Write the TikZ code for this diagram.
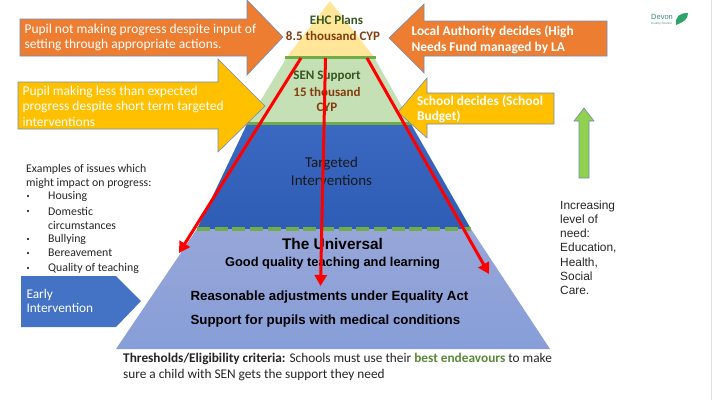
\documentclass[tikz,border=0pt]{standalone}
\usepackage{fontspec}
\setmainfont{Carlito}
\newfontfamily\arialfont{Liberation Sans}
\usetikzlibrary{arrows.meta}
\definecolor{arrowedge}{HTML}{6F8DB8}
\definecolor{darkorange}{HTML}{ED7D31}
\definecolor{gold}{HTML}{FFC000}
\definecolor{midgreen}{HTML}{70AD47}
\definecolor{palegreen}{HTML}{C5E0B4}
\definecolor{paleyellow}{HTML}{FFE699}
\definecolor{brownish}{HTML}{843C0C}
\definecolor{olive}{HTML}{375623}
\definecolor{devonteal}{HTML}{3C8C84}
\definecolor{limegreen}{HTML}{92D050}
\definecolor{earlyblue}{HTML}{4472C4}
\definecolor{targettop}{HTML}{3B68C0}
\definecolor{targetbot}{HTML}{2E5DB5}
\definecolor{unitop}{HTML}{97A6D8}
\definecolor{unibot}{HTML}{879ED8}
\tikzset{
	bigarrow/.style = {draw=arrowedge, line width=0.6pt},
	arrowtext/.style = {anchor=west, align=left, text=white, font=\fontsize{13.5}{15.6}\selectfont},
	boldarrowtext/.style = {arrowtext, font=\bfseries\fontsize{13.4}{15.6}\selectfont},
	leveltext/.style = {align=center, font=\bfseries\fontsize{13}{16}\selectfont},
	boldtext/.style = {font=\arialfont\bfseries\fontsize{13.3}{14}\selectfont, text=black},
	redarrow/.style = {draw=red, line width=3pt, -{Triangle[length=11pt,width=12pt]}},
	plaintext/.style = {anchor=west, align=left, text=black!85, font=\fontsize{11.8}{14}\selectfont},
	bulletdot/.style = {circle, fill=black, inner sep=0pt, minimum size=2.2pt},
}
\begin{document}
\begin{tikzpicture}[x=1pt,y=-1pt]
	\useasboundingbox (0,0) rectangle (712,400);
	\fill[white] (0,0) rectangle (712,400);
	\draw[black!12, line width=0.8pt] (711,0) -- (711,400);

	% pyramid
	\shade[top color=targettop, bottom color=targetbot] (247,124) -- (411,124) -- (471,229) -- (197,229) -- cycle;
	\shade[top color=unitop, bottom color=unibot] (197,229) -- (471,229) -- (550,349) -- (116,349) -- cycle;
	\fill[palegreen] (287,57) -- (374,57) -- (411,123) -- (247,123) -- cycle;
	\fill[paleyellow] (330,1) -- (374,57) -- (287,57) -- cycle;
	\draw[midgreen, line width=3pt] (285,57.5) -- (376,57.5);
	\draw[midgreen, line width=3pt] (247,123) -- (412,123);
	\draw[midgreen, line width=4pt, dash pattern=on 13pt off 4.7pt] (197,229) -- (471,229);

	% callouts
	\fill[darkorange, bigarrow] (20,19) -- (247,19) -- (247,0) -- (283,37) -- (247,75) -- (247,56) -- (20,56) -- cycle;
	\fill[gold, bigarrow] (18,82) -- (218,82) -- (218,59) -- (265,106) -- (218,152) -- (218,129) -- (18,129) -- cycle;
	\fill[darkorange, bigarrow] (607,21) -- (424,21) -- (424,4) -- (389,38) -- (424,73) -- (424,56) -- (607,56) -- cycle;
	\fill[gold, bigarrow] (554,93) -- (427,93) -- (427,78) -- (398,112) -- (427,138) -- (427,124) -- (554,124) -- cycle;
	\fill[limegreen, bigarrow] (579,178) -- (579,121) -- (574,121) -- (584,108) -- (594,121) -- (589,121) -- (589,178) -- cycle;
	\fill[earlyblue] (21,276) -- (116,276) -- (141,301) -- (116,327) -- (21,327) -- cycle;

	\node[arrowtext] (notprogress) at (21,37.5) {Pupil not making progress despite input of\\setting through appropriate actions.};
	\node[arrowtext] (lessprogress) at (19,106) {Pupil making less than expected\\progress despite short term targeted\\interventions};
	\node[boldarrowtext] (ladecides) at (408,39.5) {Local Authority decides (High\\Needs Fund managed by LA};
	\node[boldarrowtext] (schooldecides) at (413.5,109) {School decides (School\\Budget)};
	\node[arrowtext, font=\fontsize{13.3}{14}\selectfont] (early) at (23,301) {Early\\Intervention};

	% levels
	\node[leveltext, text=olive] (ehc) at (336.5,20) {EHC Plans};
	\node[leveltext, text=brownish] (ehcnum) at (333,36) {8.5 thousand CYP};
	\node[leveltext, text=olive] (sen) at (327,76) {SEN Support};
	\node[leveltext, text=brownish] (senfifteen) at (327,91.5) {15 thousand};
	\node[leveltext, text=brownish] (sennum) at (327,107) {CYP};
	\node[leveltext, text=black!90, font=\fontsize{15}{18}\selectfont] (targeted) at (331.5,171) {Targeted\\Interventions};

	\node[boldtext, font=\arialfont\bfseries\fontsize{15.4}{16}\selectfont] (universal) at (332.5,244) {The Universal};
	\node[boldtext, font=\arialfont\bfseries\fontsize{12.85}{14}\selectfont] (goodquality) at (332.5,263) {Good quality teaching and learning};
	\node[boldtext, anchor=west] (reasonable) at (187,297) {Reasonable adjustments under Equality Act};
	\node[boldtext, anchor=west] (medical) at (187,321.5) {Support for pupils with medical conditions};

	% red arrows
	\coordinate (senleft) at (301,58);
	\coordinate (senmid) at (325.5,58);
	\coordinate (senright) at (367,58);
	\coordinate (uleft) at (179,253);
	\coordinate (umid) at (320.5,286);
	\coordinate (uright) at (489,274);
	\draw[redarrow] (senleft) -- (uleft);
	\draw[redarrow] (senmid) -- (umid);
	\draw[redarrow] (senright) -- (uright);

	% left list
	\node[plaintext] (examples) at (22.7,176) {Examples of issues which\\might impact on progress:};
	\node[plaintext] (housing) at (44.7,196) {Housing};
	\node[plaintext] (domestic) at (44.7,218) {Domestic\\circumstances};
	\node[plaintext] (bullying) at (44.7,239) {Bullying};
	\node[plaintext] (bereavement) at (44.7,253) {Bereavement};
	\node[plaintext] (teaching) at (44.7,268) {Quality of teaching};
	\foreach \name/\yy in {housing/196,domestic/211,bullying/239,bereavement/253,teaching/268}
		\node[bulletdot] (dot\name) at (28,\yy) {};

	% right text
	\node[anchor=north west, align=left, inner sep=0pt, text=black!85, font=\arialfont\fontsize{11.9}{14.17}\selectfont] (increasing) at (560,200.5) {Increasing\\level of\\need:\\Education,\\Health,\\Social\\Care.};

	% bottom text
	\node[anchor=north west, align=left, inner sep=0pt, text=black!85, font=\fontsize{13.3}{16}\selectfont] (thresholds) at (123,353) {\textbf{Thresholds/Eligibility criteria:} Schools must use their \textbf{\textcolor{midgreen!80!black}{best endeavours}} to make\\sure a child with SEN gets the support they need};

	% logo
	\node[anchor=west, inner sep=0pt, text=devonteal, font=\arialfont\fontsize{7.5}{8}\selectfont] (devon) at (651,17) {Devon};
	\node[anchor=west, inner sep=0pt, text=devonteal, font=\arialfont\fontsize{3}{3}\selectfont] (council) at (651,23.5) {County Council};
	\fill[devonteal!80!green] (676,25) .. controls (675,16) and (680,13) .. (688,13) .. controls (688,20) and (683,22) .. (676,25) -- cycle;
\end{tikzpicture}
\end{document}
